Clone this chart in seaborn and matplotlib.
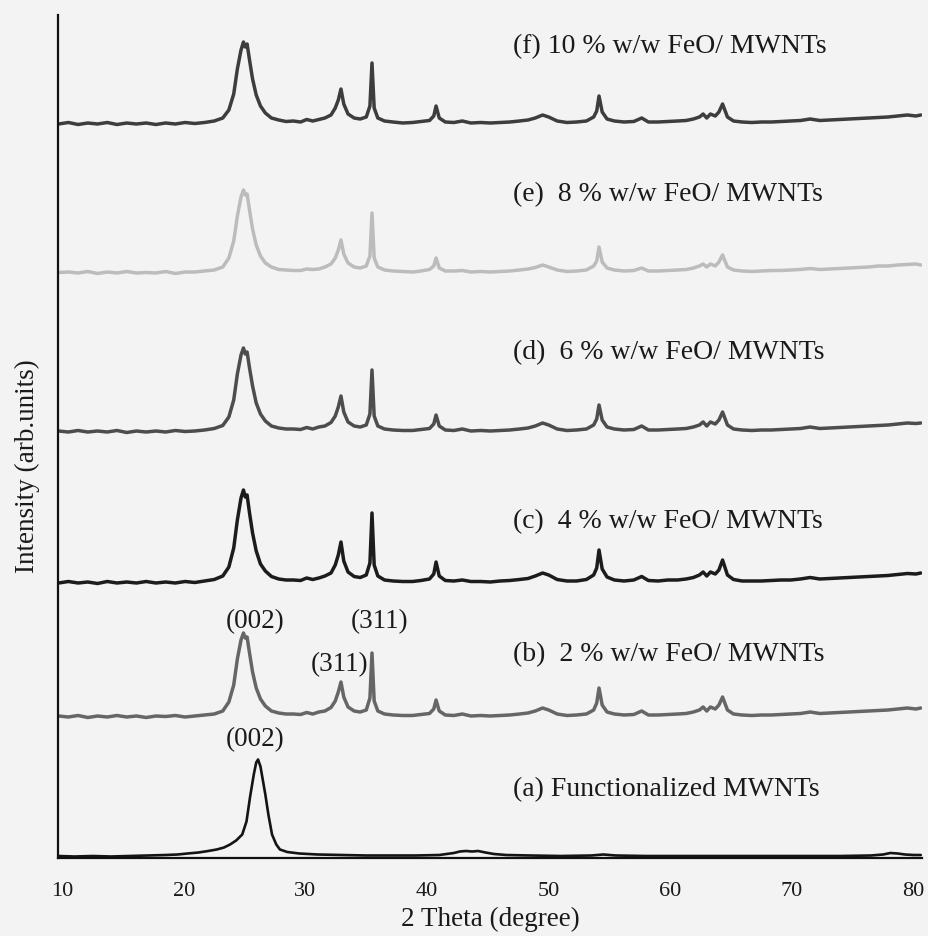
import numpy as np
import pandas as pd
import matplotlib
matplotlib.use("Agg")
import matplotlib.pyplot as plt
import seaborn as sns

# 2-theta grid shared by the FeO-loaded samples (degrees)
two_theta_doped = [
    9.7, 10.5, 11.3, 12.1, 12.9, 13.7, 14.5, 15.3, 16.1, 16.9,
    17.7, 18.5, 19.3, 20.1, 20.9, 21.7, 22.5, 23.2, 23.7, 24.1,
    24.4, 24.7, 24.9, 25.05, 25.2, 25.4, 25.65, 25.95, 26.3, 26.7,
    27.2, 27.8, 28.4, 29.0, 29.6, 30.1, 30.6, 31.1, 31.6, 32.1,
    32.45, 32.7, 32.92, 33.15, 33.5, 34.0, 34.5, 35.0, 35.3, 35.47,
    35.65, 35.95, 36.5, 37.2, 38.0, 38.8, 39.5, 40.2, 40.55, 40.74,
    41.0, 41.5, 42.2, 42.9, 43.6, 44.4, 45.2, 46.0, 46.8, 47.6,
    48.3, 48.9, 49.5, 50.0, 50.7, 51.5, 52.3, 53.1, 53.7, 53.95,
    54.14, 54.4, 54.8, 55.4, 56.2, 57.0, 57.65, 58.2, 59.0, 59.8,
    60.6, 61.3, 61.9, 62.4, 62.7, 63.0, 63.3, 63.7, 64.0, 64.3,
    64.7, 65.2, 65.9, 66.7, 67.5, 68.3, 69.1, 69.9, 70.7, 71.5,
    72.3, 73.1, 73.9, 74.7, 75.5, 76.3, 77.1, 77.9, 78.7, 79.5,
    80.2, 80.6,
]

# Intensities (arb. units) of each sample on the grid above
intensity_f = [
    0, 1.5, -0.5, 1, 0, 1.5, -0.5, 1, 0, 1,
    -0.5, 1, 0, 1.5, 0.5, 1.5, 3, 6, 14, 30,
    55, 74, 82, 77, 80, 64, 45, 29, 18, 11,
    6, 4, 2.5, 3, 2, 4.5, 3, 4.5, 6, 9,
    16, 24, 35, 20, 10, 6, 5, 7, 18, 61,
    16, 6, 3, 2, 1, 1.5, 2.5, 3.5, 8, 18,
    6, 2, 1.5, 3, 1, 1.5, 1, 1.5, 2, 3,
    4, 6, 9, 7, 3, 1.5, 2, 3, 7, 13,
    28, 12, 5, 3, 2, 2.5, 6, 2, 2, 2.5,
    3, 3.5, 5, 7, 10, 6, 10, 8, 12, 20,
    7, 3, 2, 1.5, 2, 2, 2.5, 3, 3.5, 5,
    3.5, 4, 4.5, 5, 5.5, 6, 6.5, 7, 8, 9,
    8, 9,
]
intensity_e = [
    0.5, 1, 0, 1.5, -0.5, 1, 0, 1.5, 0, 0.5,
    0, 1.5, -0.5, 1, 1, 2, 3, 6, 15, 32,
    57, 76, 83, 78, 79, 63, 44, 28, 17, 10,
    6, 3.5, 3, 2.5, 2.5, 4, 3.5, 4, 6, 9,
    15, 23, 33, 19, 10, 6, 5, 7, 17, 60,
    15, 6, 3, 2, 1.5, 1, 2, 3.5, 7, 15,
    5, 2, 2, 2.5, 1, 1.5, 1, 1.5, 2, 3,
    4, 5.5, 8, 6, 3, 1.5, 2, 3, 7, 12,
    26, 11, 5, 3, 2, 2.5, 5, 2, 2, 2.5,
    3, 3.5, 5, 7, 9, 6, 9, 7, 11, 18,
    6, 3, 2, 1.5, 2, 2.5, 2.5, 3, 3.5, 4.5,
    3.5, 4, 4.5, 5, 5.5, 6, 7, 7, 8, 8.5,
    9, 8,
]
intensity_d = [
    1, 0, 1.5, 0, 1, 0, 1.5, -0.5, 1, 0,
    1, 0, 1.5, 0.5, 1, 2, 3.5, 6.5, 15, 32,
    58, 77, 84, 78, 80, 64, 46, 29, 18, 11,
    6, 4, 3, 3, 2.5, 4.5, 3, 5, 6, 9.5,
    16, 25, 36, 20, 10, 6, 5, 7, 18, 62,
    16, 6, 3, 2, 1.5, 1.5, 2.5, 3.5, 8, 17,
    6, 2, 1.5, 3, 1, 1.5, 1, 1.5, 2, 3,
    4, 6, 9, 7, 3, 1.5, 2, 3, 7, 13,
    27, 12, 5, 3, 2, 2.5, 6, 2, 2, 2.5,
    3, 3.5, 5, 7, 10, 6, 10, 8, 12, 20,
    7, 3, 2, 1.5, 2, 2, 2.5, 3, 3.5, 5,
    3.5, 4, 4.5, 5, 5.5, 6, 6.5, 7, 8, 9,
    8.5, 9,
]
intensity_c = [
    0, 1.5, 0, 1, -0.5, 1.5, 0, 1, 0, 1.5,
    0, 1, 0, 1.5, 0.5, 2, 3.5, 7, 16, 35,
    63, 85, 93, 86, 88, 70, 50, 32, 19, 12,
    6.5, 4, 3, 3, 2.5, 5, 3.5, 5, 7, 10,
    18, 28, 41, 22, 11, 6.5, 5.5, 8, 20, 70,
    18, 7, 3, 2, 1.5, 1.5, 2.5, 4, 9, 21,
    7, 2.5, 2, 3, 1.5, 1.5, 1, 2, 2.5, 3.5,
    4.5, 7, 10, 8, 3.5, 2, 2, 3.5, 8, 15,
    33, 14, 6, 3, 2, 3, 6.5, 2.5, 2, 3,
    3, 4, 5.5, 8, 11, 7, 11, 9, 13, 23,
    8, 3.5, 2, 2, 2, 2.5, 3, 3, 4, 5.5,
    4, 4.5, 5, 5.5, 6, 6.5, 7, 7.5, 8.5, 9.5,
    9, 10,
]
intensity_b = [
    1, 0, 1.5, -0.5, 1, 0, 1.5, 0, 1, -0.5,
    1, 0.5, 1.5, 0, 1, 2, 3, 6, 15, 32,
    58, 77, 84, 79, 80, 64, 45, 29, 18, 11,
    6, 4, 3, 3, 2.5, 4.5, 3, 5, 6, 9.5,
    16, 25, 35, 20, 10, 6, 5, 7, 19, 64,
    16, 6, 3, 2, 1.5, 1.5, 2.5, 3.5, 8, 17,
    6, 2, 1.5, 3, 1, 1.5, 1, 1.5, 2, 3,
    4, 6, 9, 7, 3, 1.5, 2, 3, 7, 14,
    29, 12, 5, 3, 2, 2.5, 6, 2, 2, 2.5,
    3, 3.5, 5, 7, 10, 6, 10, 8, 12, 20,
    7, 3, 2, 1.5, 2, 2, 2.5, 3, 3.5, 5,
    3.5, 4, 4.5, 5, 5.5, 6, 6.5, 7, 8, 9,
    8, 9,
]

# Functionalized MWNTs, measured on its own grid
two_theta_a = [
    9.7, 11, 12.5, 14, 15.5, 17, 18.5, 19.5, 20.3, 21.2,
    22.0, 22.7, 23.3, 23.8, 24.3, 24.8, 25.15, 25.45, 25.75, 25.95,
    26.1, 26.3, 26.5, 26.7, 26.95, 27.25, 27.6, 27.9, 28.5, 29.5,
    31, 33, 35, 37, 39, 41, 42.2, 42.7, 43.2, 43.7,
    44.2, 44.8, 45.5, 46.5, 48.5, 51, 53.5, 54.5, 55.5, 58,
    62, 66, 70, 74, 76.5, 77.5, 78.1, 78.7, 79.3, 80.0,
    80.6,
]
intensity_a = [
    0.5, 0, 0.5, 0, 0.5, 1, 1.5, 2, 3, 4,
    5.5, 7, 9, 12, 16, 22, 35, 60, 82, 94,
    97, 90, 76, 62, 42, 22, 12, 7, 4.5, 3,
    2, 1.5, 1, 1, 1, 1.5, 3.5, 5, 5.5, 5,
    5.5, 4, 2.5, 1.5, 1, 0.5, 1, 2, 1, 0.5,
    0.5, 0.5, 0.5, 0.5, 1, 2, 3.5, 3, 2, 1.5,
    1.5,
]

sample_labels = [
    "(a) Functionalized MWNTs",
    "(b)  2 % w/w FeO/ MWNTs",
    "(c)  4 % w/w FeO/ MWNTs",
    "(d)  6 % w/w FeO/ MWNTs",
    "(e)  8 % w/w FeO/ MWNTs",
    "(f) 10 % w/w FeO/ MWNTs",
]
sample_keys = ["a", "b", "c", "d", "e", "f"]
stack_offsets = [1.5, 141, 275, 426, 585, 734]
label_heights = [68, 203, 336, 505, 663, 811]
line_colors = ["#141414", "#666666", "#1c1c1c", "#4d4d4d", "#bcbcbc", "#3d3d3d"]
line_widths = [1.9, 2.5, 2.5, 2.5, 2.5, 2.5]

tick_values = [10, 20, 30, 40, 50, 60, 70, 80]

# Peak assignments: (text, 2theta, height)
peak_notes = [
    ("(002)", 25.85, 236),
    ("(311)", 36.13, 236),
    ("(311)", 32.84, 193),
    ("(002)", 25.85, 118),
]

series = {
    "a": (two_theta_a, intensity_a),
    "b": (two_theta_doped, intensity_b),
    "c": (two_theta_doped, intensity_c),
    "d": (two_theta_doped, intensity_d),
    "e": (two_theta_doped, intensity_e),
    "f": (two_theta_doped, intensity_f),
}

frames = []
for key, off in zip(sample_keys, stack_offsets):
    x, y = series[key]
    frames.append(pd.DataFrame({
        "two_theta": x,
        "signal": np.asarray(y, dtype=float) + off,
        "sample": key,
    }))
data = pd.concat(frames, ignore_index=True)

sns.set_style("white")
plt.rcParams["font.family"] = ["Liberation Serif", "DejaVu Serif"]
bg = "#f3f3f3"
ink = "#1a1a1a"

fig = plt.figure(figsize=(9.29, 9.36), dpi=100, facecolor=bg)
ax = fig.add_axes([58 / 929, 78 / 936, 864 / 929, 843 / 936])
ax.set_facecolor(bg)

for key, color, lw in zip(sample_keys, line_colors, line_widths):
    sns.lineplot(data=data[data["sample"] == key], x="two_theta", y="signal",
                 sort=False, estimator=None, color=color, linewidth=lw,
                 ax=ax, legend=False)

for text, h in zip(sample_labels, label_heights):
    ax.text(47.1, h, text, ha="left", va="center", fontsize=20, color=ink)

for text, x, h in peak_notes:
    ax.text(x, h, text, ha="center", va="center", fontsize=19.5, color=ink)

ax.set_xlim(9.65, 80.7)
ax.set_ylim(0, 843)
ax.set_xticks(tick_values)
ax.set_xticklabels([str(v) for v in tick_values])
ax.set_yticks([])
ax.tick_params(axis="x", length=0, pad=17, labelsize=16, colors=ink)

for side in ("top", "right"):
    ax.spines[side].set_visible(False)
for side in ("left", "bottom"):
    ax.spines[side].set_color("#111111")
    ax.spines[side].set_linewidth(1.6)

ax.set_xlabel("2 Theta (degree)", fontsize=19.5, color=ink)
ax.set_ylabel("Intensity (arb.units)", fontsize=19.5, color=ink)
ax.xaxis.set_label_coords(0.5, -0.058)
ax.yaxis.set_label_coords(-0.021, 0.465)

fig.savefig("out.png", dpi=100, facecolor=bg)
